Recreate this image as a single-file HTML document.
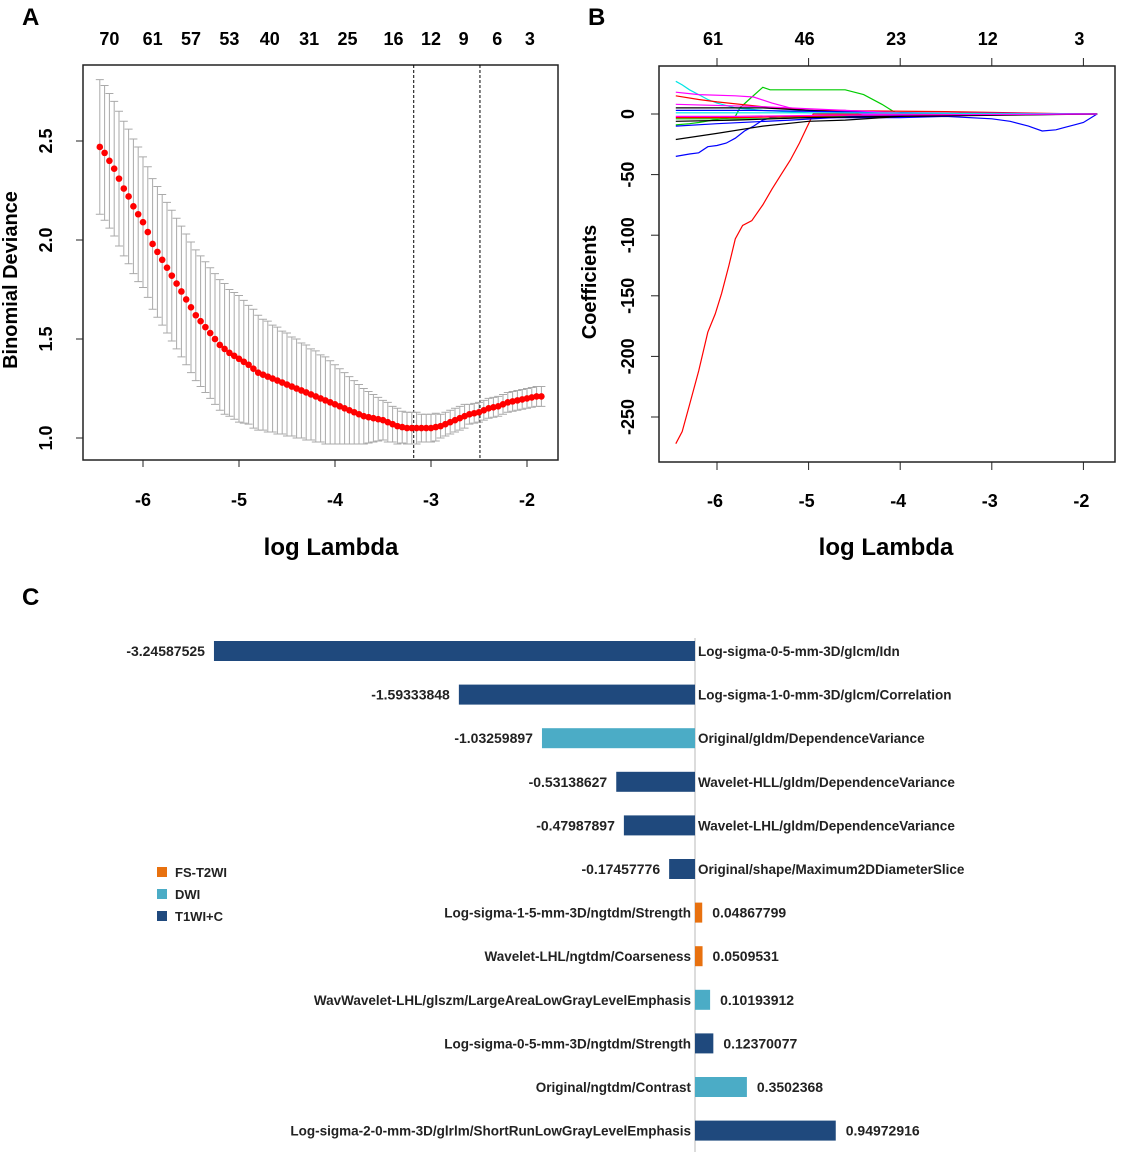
<!DOCTYPE html>
<html><head><meta charset="utf-8"><style>
html,body{margin:0;padding:0;background:#fff;}
svg{display:block;font-family:"Liberation Sans",sans-serif;}
</style></head><body>
<svg id="fig" width="1122" height="1154" viewBox="0 0 1122 1154">
<text x="22" y="25" font-size="24" font-weight="bold">A</text>
<text x="588" y="25" font-size="24" font-weight="bold">B</text>
<text x="22" y="605" font-size="24" font-weight="bold">C</text>
<g id="pa"></g>
<g id="pb"></g>
<g id="pc"></g>
</svg>
<script>
// ---------- Panel A data ----------
const aLogLambda=[-6.45,-6.4,-6.35,-6.3,-6.25,-6.2,-6.15,-6.1,-6.05,-6.0,-5.95,-5.9,-5.85,-5.8,-5.75,-5.7,-5.65,-5.6,-5.55,-5.5,-5.45,-5.4,-5.35,-5.3,-5.25,-5.2,-5.15,-5.1,-5.05,-5.0,-4.95,-4.9,-4.85,-4.8,-4.75,-4.7,-4.65,-4.6,-4.55,-4.5,-4.45,-4.4,-4.35,-4.3,-4.25,-4.2,-4.15,-4.1,-4.05,-4.0,-3.95,-3.9,-3.85,-3.8,-3.75,-3.7,-3.65,-3.6,-3.55,-3.5,-3.45,-3.4,-3.35,-3.3,-3.25,-3.2,-3.15,-3.1,-3.05,-3.0,-2.95,-2.9,-2.85,-2.8,-2.75,-2.7,-2.65,-2.6,-2.55,-2.5,-2.45,-2.4,-2.35,-2.3,-2.25,-2.2,-2.15,-2.1,-2.05,-2.0,-1.95,-1.9,-1.85];
const aMean=[2.47,2.44,2.40,2.36,2.31,2.26,2.22,2.17,2.13,2.09,2.04,1.98,1.94,1.90,1.86,1.82,1.78,1.74,1.70,1.66,1.62,1.59,1.56,1.53,1.50,1.47,1.45,1.43,1.415,1.40,1.385,1.37,1.35,1.33,1.32,1.31,1.30,1.29,1.28,1.27,1.26,1.25,1.24,1.23,1.22,1.21,1.20,1.19,1.18,1.17,1.16,1.15,1.14,1.13,1.12,1.11,1.105,1.10,1.095,1.09,1.08,1.07,1.06,1.055,1.05,1.05,1.05,1.05,1.05,1.05,1.055,1.06,1.07,1.08,1.09,1.10,1.11,1.12,1.125,1.13,1.14,1.15,1.155,1.16,1.17,1.18,1.185,1.19,1.195,1.20,1.205,1.21,1.21];
const aSE=[0.34,0.34,0.34,0.34,0.34,0.34,0.34,0.34,0.34,0.33,0.33,0.33,0.33,0.33,0.33,0.33,0.33,0.33,0.33,0.33,0.33,0.33,0.33,0.33,0.33,0.33,0.33,0.32,0.32,0.32,0.31,0.30,0.30,0.29,0.28,0.28,0.27,0.27,0.26,0.26,0.25,0.25,0.24,0.24,0.23,0.23,0.22,0.22,0.21,0.20,0.19,0.18,0.17,0.16,0.15,0.14,0.13,0.12,0.11,0.10,0.10,0.09,0.09,0.08,0.08,0.08,0.08,0.07,0.07,0.07,0.07,0.06,0.06,0.06,0.06,0.06,0.06,0.05,0.05,0.05,0.05,0.05,0.05,0.05,0.05,0.05,0.05,0.05,0.05,0.05,0.05,0.05,0.05];
const aXTicks=[-6,-5,-4,-3,-2];
const aYTicks=[1.0,1.5,2.0,2.5];
const aTopLabels=["70","61","57","53","40","31","25","16","12","9","6","3"];
const aTopAt=[-6.35,-5.9,-5.5,-5.1,-4.68,-4.27,-3.87,-3.39,-3.0,-2.66,-2.31,-1.97];
const aVLines=[-3.18,-2.49];

// ---------- Panel B data ----------
const bXTicks=[-6,-5,-4,-3,-2];
const bTopLabels=["61","46","23","12","3"];
const bYTicks=[0,-50,-100,-150,-200,-250];
const bPaths=[
 {c:"#ff0000",x:[-6.45,-6.38,-6.3,-6.2,-6.1,-6.02,-5.95,-5.87,-5.8,-5.72,-5.62,-5.5,-5.4,-5.3,-5.2,-5.1,-5.0,-4.95,-1.85],y:[-272,-262,-240,-212,-180,-165,-148,-125,-103,-92,-88,-75,-62,-50,-38,-24,-8,0,0]},
 {c:"#0000ff",x:[-6.45,-6.3,-6.2,-6.1,-6.0,-5.9,-5.8,-5.7,-5.6,-5.5,-5.4,-5.2,-5.0,-4.0,-3.5,-3.0,-2.8,-2.6,-2.45,-2.3,-2.2,-2.1,-2.0,-1.85],y:[-35,-33,-32,-27,-26,-24,-20,-14,-10,-5,-3,-2,-3,-3,-2,-4,-6,-10,-14,-13,-11,-9,-7,0]},
 {c:"#00cc00",x:[-6.45,-6.3,-6.2,-5.8,-5.75,-5.65,-5.5,-5.42,-5.3,-5.0,-4.6,-4.4,-4.2,-4.05,-3.8,-1.85],y:[-9,-8,-7,-2,5,12,22,20,20,20,20,16,8,1,0,0]},
 {c:"#000000",x:[-6.45,-6.0,-5.5,-5.0,-4.6,-4.0,-3.8,-1.85],y:[-21,-16,-10,-6,-5,-2,0,0]},
 {c:"#00e5e5",x:[-6.45,-6.38,-6.3,-6.2,-6.1,-6.0,-5.8,-5.5,-5.0,-1.85],y:[27,24,20,16,12,9,5,3,1,0]},
 {c:"#ff00ff",x:[-6.45,-6.2,-5.8,-5.6,-5.4,-5.2,-5.0,-4.6,-4.4,-2.0],y:[18,16,15,14,9,5,3,3,0,0]},
 {c:"#ff0000",x:[-6.45,-6.2,-6.0,-5.5,-5.0,-3.5,-2.0],y:[15,12,10,6,3,2,0]},
 {c:"#000000",x:[-6.45,-5.5,-5.0,-4.4,-1.85],y:[5,5,3,1,0]},
 {c:"#0000ff",x:[-6.45,-5.6,-4.8,-3.8,-1.85],y:[3,3,2,1,0]},
 {c:"#ff00ff",x:[-6.45,-5.5,-4.6,-4.0,-1.85],y:[8,6,3,1,0]},
 {c:"#00cc00",x:[-6.45,-5.5,-4.8,-3.6,-1.85],y:[-4,-4,-2,-1,0]},
 {c:"#0000ff",x:[-6.45,-6.0,-5.2,-4.5,-1.85],y:[-10,-8,-5,-2,0]},
 {c:"#ff0000",x:[-6.45,-5.8,-5.0,-4.5,-1.85],y:[-3,-3,-2,-1,0]},
 {c:"#000000",x:[-6.45,-5.8,-5.0,-4.0,-1.85],y:[-6,-5,-3,-2,0]},
 {c:"#00e5e5",x:[-6.45,-5.5,-4.5,-1.85],y:[1,1,1,0]},
 {c:"#ff00ff",x:[-6.45,-5.8,-4.8,-1.85],y:[-2,-2,-1,0]}
];

// ---------- Panel C data ----------
const cNames=["Log-sigma-0-5-mm-3D/glcm/Idn","Log-sigma-1-0-mm-3D/glcm/Correlation","Original/gldm/DependenceVariance","Wavelet-HLL/gldm/DependenceVariance","Wavelet-LHL/gldm/DependenceVariance","Original/shape/Maximum2DDiameterSlice","Log-sigma-1-5-mm-3D/ngtdm/Strength","Wavelet-LHL/ngtdm/Coarseness","WavWavelet-LHL/glszm/LargeAreaLowGrayLevelEmphasis","Log-sigma-0-5-mm-3D/ngtdm/Strength","Original/ngtdm/Contrast","Log-sigma-2-0-mm-3D/glrlm/ShortRunLowGrayLevelEmphasis"];
const cValues=[-3.24587525,-1.59333848,-1.03259897,-0.53138627,-0.47987897,-0.17457776,0.04867799,0.0509531,0.10193912,0.12370077,0.3502368,0.94972916];
const cLabels=["-3.24587525","-1.59333848","-1.03259897","-0.53138627","-0.47987897","-0.17457776","0.04867799","0.0509531","0.10193912","0.12370077","0.3502368","0.94972916"];
const cGroup=["T1WI+C","T1WI+C","DWI","T1WI+C","T1WI+C","T1WI+C","FS-T2WI","FS-T2WI","DWI","T1WI+C","DWI","T1WI+C"];
const cLegend=["FS-T2WI","DWI","T1WI+C"];

const NS="http://www.w3.org/2000/svg";
function mk(parent,tag,attrs,text){const e=document.createElementNS(NS,tag);for(const k in attrs)e.setAttribute(k,attrs[k]);if(text!==undefined)e.textContent=text;parent.appendChild(e);return e;}

// ===== Panel A =====
(function(){
 const g=document.getElementById('pa');
 const L=83,R=558,T=65,B=460;
 const ax=v=>143+(v+6)*96;
 const ay=v=>438-(v-1)*198;
 let e=mk(g,'rect',{x:L,y:T,width:R-L,height:B-T,fill:'none',stroke:'#222','stroke-width':1.5});
 
 aVLines.forEach(v=>{e=mk(g,'line',{x1:ax(v),x2:ax(v),y1:T,y2:B,stroke:'#000','stroke-width':1,'stroke-dasharray':'3,2'});
  });
 aLogLambda.forEach((x,i)=>{
  const cx=ax(x),up=ay(aMean[i]+aSE[i]),lo=ay(aMean[i]-aSE[i]);
  e=mk(g,'path',{d:`M${cx},${up}V${lo}M${cx-4},${up}H${cx+4}M${cx-4},${lo}H${cx+4}`,stroke:'#aaa','stroke-width':1,fill:'none'});
  
 });
 aLogLambda.forEach((x,i)=>{
  e=mk(g,'circle',{cx:ax(x),cy:ay(aMean[i]),r:3.3,fill:'#ff0000'});
  
 });
 aXTicks.forEach(v=>{mk(g,'line',{x1:ax(v),x2:ax(v),y1:B,y2:B+7,stroke:'#222'});
  e=mk(g,'text',{x:ax(v),y:B+46,'font-size':18,'font-weight':'bold','text-anchor':'middle'},String(v));
  });
 aYTicks.forEach(v=>{mk(g,'line',{x1:L-7,x2:L,y1:ay(v),y2:ay(v),stroke:'#222'});
  e=mk(g,'text',{x:52,y:ay(v),'font-size':18,'font-weight':'bold','text-anchor':'middle',transform:`rotate(-90 52 ${ay(v)})`},v.toFixed(1));
  });
 aTopLabels.forEach((t,i)=>{e=mk(g,'text',{x:ax(aTopAt[i]),y:45,'font-size':18,'font-weight':'bold','text-anchor':'middle'},t);
  });
 e=mk(g,'text',{x:331,y:555,'font-size':24,'font-weight':'bold','text-anchor':'middle'},'log Lambda');
 
 e=mk(g,'text',{x:17,y:280,'font-size':20,'font-weight':'bold','text-anchor':'middle',transform:'rotate(-90 17 280)'},'Binomial Deviance');
 
})();

// ===== Panel B =====
(function(){
 const g=document.getElementById('pb');
 const L=659,R=1115,T=66,B=462;
 const bx=v=>717+(v+6)*91.6;
 const by=v=>114-v*1.212;
 let e=mk(g,'rect',{x:L,y:T,width:R-L,height:B-T,fill:'none',stroke:'#222','stroke-width':1.5});
 
 bPaths.forEach(p=>{
  const d=p.x.map((x,i)=>(i?'L':'M')+bx(x).toFixed(1)+','+by(p.y[i]).toFixed(1)).join('');
  e=mk(g,'path',{d:d,stroke:p.c,'stroke-width':1.2,fill:'none'});
  
 });
 bXTicks.forEach((v,i)=>{mk(g,'line',{x1:bx(v),x2:bx(v),y1:B,y2:B+8,stroke:'#222'});
  mk(g,'line',{x1:bx(v),x2:bx(v),y1:T,y2:T-8,stroke:'#222'});
  e=mk(g,'text',{x:bx(v)-2,y:B+45,'font-size':18,'font-weight':'bold','text-anchor':'middle'},String(v));
  
  e=mk(g,'text',{x:bx(v)-4,y:45,'font-size':18,'font-weight':'bold','text-anchor':'middle'},bTopLabels[i]);
  });
 bYTicks.forEach(v=>{mk(g,'line',{x1:L-8,x2:L,y1:by(v),y2:by(v),stroke:'#222'});
  e=mk(g,'text',{x:634,y:by(v),'font-size':18,'font-weight':'bold','text-anchor':'middle',transform:`rotate(-90 634 ${by(v)})`},String(v));
  });
 e=mk(g,'text',{x:886,y:555,'font-size':24,'font-weight':'bold','text-anchor':'middle'},'log Lambda');
 
 e=mk(g,'text',{x:596,y:282,'font-size':20,'font-weight':'bold','text-anchor':'middle',transform:'rotate(-90 596 282)'},'Coefficients');
 
})();

// ===== Panel C =====
(function(){
 const g=document.getElementById('pc');
 const colors={"FS-T2WI":"#e8710f","DWI":"#4bacc6","T1WI+C":"#1f497d"};
 const x0=695, sc=148.2;
 const cx=v=>x0+v*sc;
 const rowY=i=>651+i*43.6;
 let e=mk(g,'line',{x1:x0,x2:x0,y1:638,y2:1152,stroke:'#d0d0d0','stroke-width':1.5});
 
 cValues.forEach((v,i)=>{
  const y=rowY(i);
  const x1=Math.min(cx(v),x0),w=Math.abs(cx(v)-x0);
  e=mk(g,'rect',{x:x1,y:y-10,width:Math.max(w,2),height:20,fill:colors[cGroup[i]]});
  
  if(v<0){
   e=mk(g,'text',{x:cx(v)-9,y:y+5,'font-size':14,'font-weight':'bold','text-anchor':'end',fill:'#222'},cLabels[i]);
   
   e=mk(g,'text',{x:x0+3,y:y+5,'font-size':13.5,'font-weight':'bold','text-anchor':'start',fill:'#222'},cNames[i]);
   
  }else{
   e=mk(g,'text',{x:cx(v)+10,y:y+5,'font-size':14,'font-weight':'bold','text-anchor':'start',fill:'#222'},cLabels[i]);
   
   e=mk(g,'text',{x:x0-4,y:y+5,'font-size':13.5,'font-weight':'bold','text-anchor':'end',fill:'#222'},cNames[i]);
   
  }
 });
 cLegend.forEach((n,i)=>{
  const y=872+i*22;
  e=mk(g,'rect',{x:157,y:y-5,width:10,height:10,fill:colors[n]});
  
  e=mk(g,'text',{x:175,y:y+5,'font-size':13,'font-weight':'bold',fill:'#222'},n);
  
 });
})();
</script>
</body></html>
